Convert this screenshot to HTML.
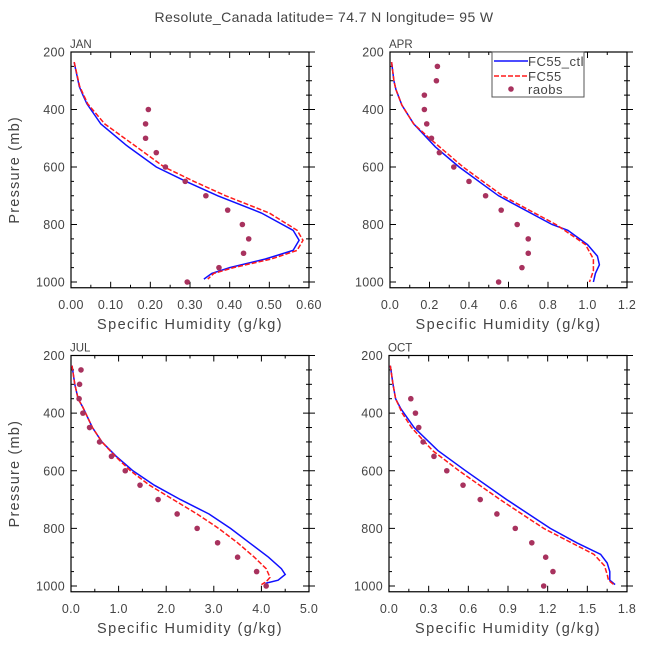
<!DOCTYPE html>
<html><head><meta charset="utf-8"><style>
body{margin:0;background:#fff}
svg text{font-family:"Liberation Sans",sans-serif;fill:#444}
</style></head><body>
<svg id="c" width="648" height="648" xmlns="http://www.w3.org/2000/svg">
<text x="324" y="22" text-anchor="middle" font-size="14" letter-spacing="0.4">Resolute_Canada  latitude= 74.7 N longitude= 95 W</text>
</svg>
<script>
const pressureTicks=[200,400,600,800,1000];
const janCtlP=[235,250,300,320,350,380,450,525,600,650,700,760,820,855,890,920,950,970,990];
const janCtlQ=[0.008,0.01,0.018,0.021,0.03,0.04,0.075,0.14,0.215,0.29,0.37,0.48,0.56,0.575,0.56,0.49,0.40,0.355,0.335];
const janExpP=[235,320,380,450,525,600,650,700,760,820,855,890,920,950,970,990];
const janExpQ=[0.008,0.022,0.042,0.085,0.16,0.235,0.31,0.39,0.50,0.57,0.585,0.57,0.505,0.41,0.36,0.345];
const janObsP=[400,450,500,550,600,650,700,750,800,850,900,950,1000];
const janObsQ=[0.195,0.188,0.188,0.215,0.238,0.288,0.34,0.395,0.432,0.448,0.435,0.373,0.293];
const aprCtlP=[235,300,330,385,450,530,600,700,800,820,870,910,940,970,1000];
const aprCtlQ=[0.008,0.02,0.03,0.06,0.12,0.23,0.35,0.55,0.82,0.9,1.0,1.05,1.06,1.04,1.03];
const aprExpP=[235,300,330,385,450,500,600,700,800,870,920,960,980,1000];
const aprExpQ=[0.008,0.02,0.03,0.06,0.12,0.20,0.37,0.57,0.84,0.99,1.03,1.03,1.02,1.01];
const aprObsP=[250,300,350,400,450,500,550,600,650,700,750,800,850,900,950,1000];
const aprObsQ=[0.24,0.235,0.174,0.174,0.186,0.21,0.25,0.323,0.40,0.484,0.563,0.644,0.70,0.70,0.668,0.55];
const julCtlP=[235,300,350,380,450,500,550,600,650,700,750,800,850,900,940,960,980,990,1000];
const julCtlQ=[0.02,0.08,0.15,0.25,0.45,0.65,0.95,1.3,1.75,2.3,2.9,3.35,3.75,4.15,4.42,4.5,4.35,4.1,4.08];
const julExpP=[235,300,350,380,450,500,550,600,650,700,750,800,850,900,940,970,985,995];
const julExpQ=[0.02,0.08,0.15,0.25,0.45,0.65,0.93,1.25,1.65,2.15,2.65,3.1,3.5,3.85,4.1,4.18,4.1,4.0];
const julObsP=[250,300,350,400,450,500,550,600,650,700,750,800,850,900,950,1000];
const julObsQ=[0.21,0.18,0.17,0.25,0.39,0.6,0.85,1.14,1.45,1.83,2.23,2.65,3.08,3.5,3.9,4.1];
const octCtlP=[235,300,350,385,450,530,600,700,800,850,890,920,950,980,995];
const octCtlQ=[0.01,0.03,0.05,0.09,0.19,0.37,0.58,0.89,1.22,1.42,1.6,1.65,1.67,1.67,1.71];
const octExpP=[235,300,350,400,450,530,600,700,800,850,890,930,960,980,995];
const octExpQ=[0.01,0.03,0.05,0.1,0.17,0.33,0.53,0.84,1.17,1.38,1.55,1.63,1.65,1.66,1.7];
const octObsP=[350,400,450,500,550,600,650,700,750,800,850,900,950,1000];
const octObsQ=[0.165,0.2,0.225,0.258,0.34,0.437,0.56,0.69,0.816,0.955,1.08,1.185,1.24,1.17];
const janXTicks=["0.00","0.10","0.20","0.30","0.40","0.50","0.60"];
const aprXTicks=["0.0","0.2","0.4","0.6","0.8","1.0","1.2"];
const julXTicks=["0.0","1.0","2.0","3.0","4.0","5.0"];
const octXTicks=["0.0","0.3","0.6","0.9","1.2","1.5","1.8"];

const svg=document.getElementById('c');
const NS='http://www.w3.org/2000/svg';
function mk(t,a,parent){const e=document.createElementNS(NS,t);for(const k in a)e.setAttribute(k,a[k]);(parent||svg).appendChild(e);return e;}

function panel(name,x0,x1,y200,y1000,ticks,cp,cq,ep,eq,op,oq,yTitle,legend){
  const g=mk('g',{});
  
  
  const xmax=parseFloat(ticks[ticks.length-1]);
  const sx=v=>x0+(x1-x0)*v/xmax;
  const sy=p=>y200+(y1000-y200)*(p-200)/800;
  const yb=sy(1020);
  const fr=mk('rect',{x:x0,y:y200,width:x1-x0,height:yb-y200,fill:'none',stroke:'#000','stroke-width':1.2},g);
  
  
  for(let p=200;p<=1000;p+=50){
    const maj=p%200===0, L=maj?6:3;
    mk('line',{x1:x0,x2:x0+L,y1:sy(p),y2:sy(p),stroke:'#000'},g);
    mk('line',{x1:x1-L,x2:x1+L,y1:sy(p),y2:sy(p),stroke:'#000'},g);
  }
  pressureTicks.forEach(p=>{
    const t=mk('text',{x:x0-6,y:sy(p)+4.5,'text-anchor':'end','font-size':12.5,'letter-spacing':0.3},g);
    t.textContent=p;
    
    
  });
  const n=ticks.length-1;
  for(let i=0;i<=n*2;i++){
    const xx=x0+(x1-x0)*i/(n*2), L=i%2===0?6:3;
    mk('line',{x1:xx,x2:xx,y1:y200,y2:y200+L,stroke:'#000'},g);
    mk('line',{x1:xx,x2:xx,y1:yb,y2:yb-L,stroke:'#000'},g);
  }
  ticks.forEach((s,i)=>{
    const t=mk('text',{x:sx(parseFloat(s)),y:yb+21,'text-anchor':'middle','font-size':12.5,'letter-spacing':0.3},g);
    t.textContent=s;
    
    
  });
  const xt=mk('text',{x:(x0+x1)/2,y:yb+41,'text-anchor':'middle','font-size':14.5,'letter-spacing':1.4},g);
  xt.textContent='Specific Humidity (g/kg)';
  
  
  if(yTitle){
    const cy=(y200+yb)/2;
    const yt=mk('text',{x:19,y:cy,'text-anchor':'middle','font-size':14.5,'letter-spacing':1.2,transform:'rotate(-90 19 '+cy+')'},g);
    yt.textContent='Pressure (mb)';
    
    
  }
  const lab=mk('text',{x:x0-1,y:y200-4,'font-size':11.5},g);
  lab.textContent=name.toUpperCase();
  
  
  const pts=(P,Q)=>P.map((p,i)=>sx(Q[i]).toFixed(1)+','+sy(p).toFixed(1)).join(' ');
  const l1=mk('polyline',{points:pts(cp,cq),fill:'none',stroke:'#1010ff','stroke-width':1.5},g);
  
  
  const l2=mk('polyline',{points:pts(ep,eq),fill:'none',stroke:'#ff1a1a','stroke-width':1.5,'stroke-dasharray':'5,2'},g);
  
  
  op.forEach((p,i)=>{
    const c=mk('circle',{cx:sx(oq[i]),cy:sy(p),r:2.8,fill:'#a8325e'},g);
    
    
  });
  if(legend){
    const lg=mk('g',{},g);
    
    
    mk('rect',{x:492,y:52,width:92,height:45,fill:'#fff',stroke:'#555'},lg);
    mk('line',{x1:494,x2:528,y1:61,y2:61,stroke:'#1010ff','stroke-width':1.5},lg);
    mk('line',{x1:494,x2:528,y1:76,y2:76,stroke:'#ff1a1a','stroke-width':1.5,'stroke-dasharray':'5,2'},lg);
    mk('circle',{cx:511,cy:89,r:2.8,fill:'#a8325e'},lg);
    [['FC55_ctl',66],['FC55',81],['raobs',94]].forEach(a=>{
      const t=mk('text',{x:528,y:a[1],'font-size':13,'letter-spacing':0.5},lg);
      t.textContent=a[0];
      
      
    });
  }
}
panel('jan',71,309,52,282,janXTicks,janCtlP,janCtlQ,janExpP,janExpQ,janObsP,janObsQ,true,false);
panel('apr',390,627,52,282,aprXTicks,aprCtlP,aprCtlQ,aprExpP,aprExpQ,aprObsP,aprObsQ,false,true);
panel('jul',71,309,355.5,586,julXTicks,julCtlP,julCtlQ,julExpP,julExpQ,julObsP,julObsQ,true,false);
panel('oct',389,627,355.5,586,octXTicks,octCtlP,octCtlQ,octExpP,octExpQ,octObsP,octObsQ,false,false);
</script>
</body></html>
